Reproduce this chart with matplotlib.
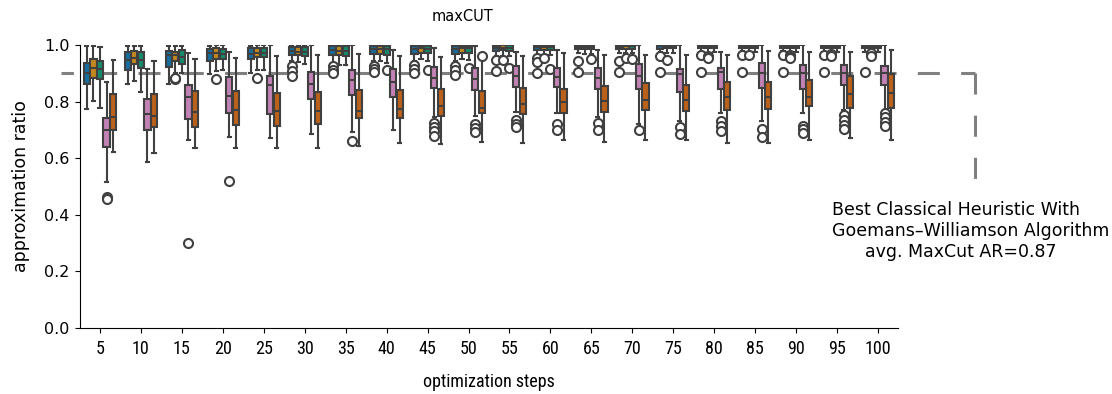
import matplotlib
matplotlib.use("Agg")
import matplotlib.pyplot as plt
from matplotlib import font_manager
import seaborn as sns

# optimization steps on the x axis
steps = [5, 10, 15, 20, 25, 30, 35, 40, 45, 50, 55, 60, 65, 70, 75, 80, 85, 90, 95, 100]
methods = ["m1", "m2", "m3", "m4", "m5"]

# ---- blue ----
blue_lo  = [.774, .861, .861, .897, .900, .942, .936, .942, .945, .945, .960, .965, .970, .972, .975, .975, .978, .978, .975, .974]
blue_q1  = [.862, .910, .924, .945, .949, .965, .965, .968, .968, .968, .980, .982, .985, .986, .987, .988, .989, .990, .990, .990]
blue_med = [.900, .947, .965, .970, .968, .980, .982, .985, .985, .985, .990, .992, .993, .994, .995, .995, .996, .996, .997, .997]
blue_q3  = [.938, .977, .979, .985, .988, .992, .995, .995, .996, .996, .998, .999, 1.0, 1.0, 1.0, 1.0, 1.0, 1.0, 1.0, 1.0]
blue_hi  = [.996, .998, .998, .998, .998, 1.0, 1.0, 1.0, 1.0, 1.0, 1.0, 1.0, 1.0, 1.0, 1.0, 1.0, 1.0, 1.0, 1.0, 1.0]
blue_fl  = [[], [], [], [], [], [.926, .909, .89], [.925, .91, .90], [.925, .915, .905], [.93, .915, .90],
            [.925, .91, .895], [.947, .907], [.955, .94, .902], [.945, .903], [.945, .903], [.961, .903],
            [.965, .903], [.965, .903], [.965, .903], [.965, .903], [.903]]

# ---- orange ----
orng_lo  = [.802, .873, .900, .908, .912, .939, .929, .942, .950, .950, .962, .965, .968, .970, .972, .972, .975, .975, .976, .976]
orng_q1  = [.882, .933, .943, .949, .956, .965, .965, .968, .972, .972, .982, .984, .986, .987, .988, .989, .990, .990, .991, .991]
orng_med = [.917, .953, .965, .971, .971, .977, .980, .985, .988, .988, .991, .993, .994, .995, .996, .996, .997, .997, .997, .998]
orng_q3  = [.950, .979, .977, .988, .988, .992, .995, .995, .997, .997, .999, 1.0, 1.0, 1.0, 1.0, 1.0, 1.0, 1.0, 1.0, 1.0]
orng_hi  = [.996, .998, .998, 1.0, 1.0, 1.0, 1.0, 1.0, 1.0, 1.0, 1.0, 1.0, 1.0, 1.0, 1.0, 1.0, 1.0, 1.0, 1.0, 1.0]
orng_fl  = [[], [], [.88, .885], [.88], [.882], [], [], [], [], [], [.947], [.953], [], [.953], [.947],
            [.96, .955], [.965], [.965, .958, .955], [.967, .96], [.97, .96]]

# ---- green ----
gren_lo  = [.776, .833, .900, .912, .912, .933, .930, .936, .945, .948, .960, .965, .968, .970, .972, .974, .975, .976, .976, .977]
gren_q1  = [.879, .917, .932, .949, .957, .961, .961, .965, .970, .972, .980, .983, .985, .986, .988, .989, .990, .990, .991, .991]
gren_med = [.914, .947, .957, .968, .973, .977, .980, .985, .987, .988, .991, .992, .994, .995, .995, .996, .996, .997, .997, .997]
gren_q3  = [.945, .977, .982, .986, .988, .992, .995, .995, .997, .997, .999, 1.0, 1.0, 1.0, 1.0, 1.0, 1.0, 1.0, 1.0, 1.0]
gren_hi  = [.992, .995, .998, 1.0, 1.0, 1.0, 1.0, 1.0, 1.0, 1.0, 1.0, 1.0, 1.0, 1.0, 1.0, 1.0, 1.0, 1.0, 1.0, 1.0]
gren_fl  = [[], [], [], [], [], [], [], [.912], [.912], [.917], [.917], [.915], [.95], [.95], [], [], [], [], [], []]

# ---- pink ----
pink_lo  = [.517, .585, .664, .676, .672, .686, .694, .700, .745, .749, .763, .761, .745, .720, .733, .761, .730, .761, .772, .770]
pink_q1  = [.638, .700, .739, .759, .757, .809, .823, .818, .847, .840, .851, .850, .843, .843, .833, .845, .847, .843, .859, .857]
pink_med = [.700, .756, .816, .821, .860, .863, .876, .871, .882, .880, .889, .886, .882, .892, .897, .904, .900, .900, .900, .900]
pink_q3  = [.741, .809, .857, .886, .889, .904, .910, .914, .921, .917, .925, .919, .917, .933, .914, .917, .935, .929, .929, .925]
pink_hi  = [.870, .914, .971, .977, 1.0, 1.0, 1.0, .981, .988, .995, .977, .981, .982, 1.0, 1.0, .977, 1.0, 1.0, 1.0, 1.0]
pink_fl  = [[.462, .456], [], [.30], [.52], [], [], [.662], [], [.725, .71, .695, .68], [.721, .706, .694],
            [.736, .722, .709], [.72, .70], [.725, .70], [.698], [.709, .684], [.731, .715, .697],
            [.704, .676], [.714, .702, .688], [.753, .735, .717, .702], [.759, .745, .729, .714]]

# ---- dark orange ----
dorg_lo  = [.623, .620, .635, .635, .635, .635, .643, .652, .650, .659, .652, .664, .659, .666, .664, .652, .654, .666, .670, .664]
dorg_q1  = [.700, .709, .711, .717, .714, .721, .741, .741, .748, .761, .757, .758, .765, .769, .768, .772, .774, .783, .779, .779]
dorg_med = [.745, .748, .765, .770, .767, .768, .767, .774, .783, .777, .793, .798, .801, .804, .806, .815, .815, .818, .826, .830]
dorg_q3  = [.826, .826, .836, .836, .829, .833, .841, .841, .843, .836, .847, .843, .855, .864, .859, .871, .869, .875, .889, .897]
dorg_hi  = [.947, .942, .949, .954, .960, .963, .968, .960, .957, .950, .960, .970, .966, .965, .965, .965, .980, .977, .974, .982]
dorg_fl  = [[], [], [], [], [], [], [], [], [], [.962], [], [], [], [], [], [], [], [], [], []]

series = [
    (blue_lo, blue_q1, blue_med, blue_q3, blue_hi, blue_fl),
    (orng_lo, orng_q1, orng_med, orng_q3, orng_hi, orng_fl),
    (gren_lo, gren_q1, gren_med, gren_q3, gren_hi, gren_fl),
    (pink_lo, pink_q1, pink_med, pink_q3, pink_hi, pink_fl),
    (dorg_lo, dorg_q1, dorg_med, dorg_q3, dorg_hi, dorg_fl),
]

gw_ratio = 0.9  # dashed reference level drawn on the chart
note = ("Best Classical Heuristic With\n"
        "Goemans\u2013Williamson Algorithm\n"
        "      avg. MaxCut AR=0.87")

cb = sns.color_palette("colorblind")
colors = [cb[0], cb[1], cb[2], cb[4], cb[3]]
colors = [sns.desaturate(c, 0.75) for c in colors]
line_c = "#404040"

names = {f.name for f in font_manager.fontManager.ttflist}
narrow = next((n for n in ["Liberation Sans Narrow", "DejaVu Sans Condensed", "Roboto Condensed"]
               if n in names), "DejaVu Sans")

fig = plt.figure(figsize=(11.12, 3.94), dpi=100)
ax = fig.add_axes([0.0715, 0.1675, 0.7365, 0.7183])

n = len(series)
w = 0.8 / n
for j, (lo, q1, med, q3, hi, fl) in enumerate(series):
    stats = [dict(whislo=lo[i], q1=q1[i], med=med[i], q3=q3[i], whishi=hi[i], fliers=fl[i])
             for i in range(len(steps))]
    pos = [i + (j - (n - 1) / 2) * w for i in range(len(steps))]
    ax.bxp(stats, positions=pos, widths=w * 0.94, patch_artist=True, manage_ticks=False,
           boxprops=dict(facecolor=colors[j], edgecolor=line_c, linewidth=1.5),
           medianprops=dict(color=line_c, linewidth=1.5),
           whiskerprops=dict(color=line_c, linewidth=1.5),
           capprops=dict(color=line_c, linewidth=1.5),
           flierprops=dict(marker="o", markerfacecolor="white", markeredgecolor=line_c,
                           markersize=6.5, markeredgewidth=1.5))

# reference line, runs out of the axes to the note
tr = ax.get_yaxis_transform()
ax.plot([-0.023, 1.094], [gw_ratio, gw_ratio], transform=tr, clip_on=False,
        color="gray", lw=2.2, linestyle=(3.14, (7.2, 6.97)), zorder=1)
ax.plot([1.094, 1.094], [gw_ratio, 0.52], transform=tr, clip_on=False,
        color="gray", lw=2.2, linestyle=(0, (6.9, 6.9)), zorder=1)

ax.set_xlim(-0.5, len(steps) - 0.5)
ax.set_ylim(0, 1.0)
ax.set_xticks(range(len(steps)))
ax.set_xticklabels([str(s) for s in steps], family=narrow, fontsize=13)
ax.tick_params(axis="x", pad=5)
ax.set_yticks([0.0, 0.2, 0.4, 0.6, 0.8, 1.0])
ax.set_yticklabels(["0.0", "0.2", "0.4", "0.6", "0.8", "1.0"], fontsize=11.5)
ax.set_xlabel("optimization steps", family=narrow, fontsize=13, labelpad=11)
ax.set_ylabel("approximation ratio", fontsize=12.5, labelpad=10)
ax.spines["top"].set_visible(False)
ax.spines["right"].set_visible(False)

fig.text(0.416, 0.957, "maxCUT", ha="center", va="center", fontsize=10.5)
fig.text(832 / 1112, 0.413, note, ha="left", va="center", fontsize=12.5, linespacing=1.2)

fig.savefig("out.png", dpi=100)
